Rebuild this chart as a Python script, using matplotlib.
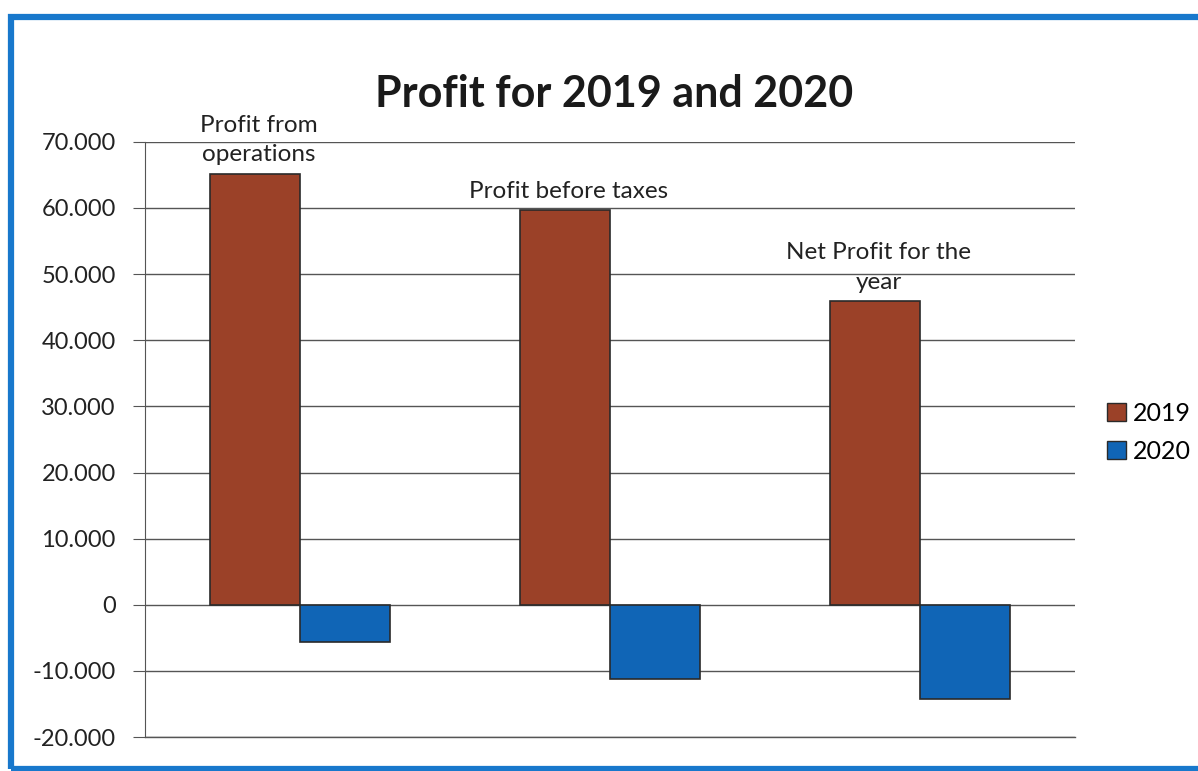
import numpy as np
import matplotlib
matplotlib.use('Agg')
import matplotlib.pyplot as plt
from matplotlib.patches import Rectangle, Patch
from matplotlib.ticker import FuncFormatter

# profit figures per line item
categories = ['Profit from\noperations', 'Profit before taxes', 'Net Profit for the\nyear']
profit_2019 = [65200, 59700, 45900]
profit_2020 = [-5600, -11200, -14200]
years = ['2019', '2020']

col_2019 = '#9b4128'
col_2020 = '#1065b6'

plt.rcParams['font.family'] = ['Lato', 'DejaVu Sans']

fig = plt.figure(figsize=(11.98, 7.71), dpi=100)
ax = fig.add_axes([0.121, 0.044, 0.776, 0.772])

ind = np.arange(len(categories))
width = 0.29
bar1 = ax.bar(ind - width / 2, profit_2019, width, color=col_2019, edgecolor='#2a2a2a', linewidth=1.2, zorder=3)
bar2 = ax.bar(ind + width / 2, profit_2020, width, color=col_2020, edgecolor='#2a2a2a', linewidth=1.2, zorder=3)

# category name sits above the 2019 bar
for i, name in enumerate(categories):
    ax.annotate(name, (ind[i] - width / 2 + 0.012, profit_2019[i]), xytext=(0, 6),
                textcoords='offset points', ha='center', va='bottom',
                fontsize=17.5, color='#222222', linespacing=1.5)

ax.set_xlim(-0.5, 2.5)
ax.set_ylim(-20000, 70000)
ax.set_yticks(np.arange(-20000, 70001, 10000))
ax.yaxis.set_major_formatter(FuncFormatter(lambda v, p: f'{int(v):,}'.replace(',', '.')))
ax.set_xticks([])
ax.grid(axis='y', color='#555555', linewidth=1.0, zorder=0)
ax.axhline(-20000, color='#555555', linewidth=1.0, clip_on=False, zorder=0)
for s in ['top', 'right', 'bottom']:
    ax.spines[s].set_visible(False)
ax.spines['left'].set_color('#555555')
ax.tick_params(axis='y', length=9, color='#555555', labelsize=17, labelcolor='#222222', pad=12)

fig.text(0.513, 0.878, 'Profit for 2019 and 2020', ha='center', va='center',
         fontsize=31, fontweight='bold', color='#1a1a1a')

fig.legend(handles=[Patch(facecolor=col_2019, edgecolor='#2a2a2a'),
                    Patch(facecolor=col_2020, edgecolor='#2a2a2a')],
           labels=years, loc='center left', bbox_to_anchor=(0.924, 0.439),
           frameon=False, fontsize=18, handlelength=0.75, handleheight=0.75,
           handletextpad=0.3, labelspacing=0.6, borderpad=0, borderaxespad=0)

# blue frame round the chart area
fig.patches.append(Rectangle((0.009, 0.003), 1.2, 0.975, transform=fig.transFigure,
                             fill=False, edgecolor='#1878cc', linewidth=4.5))

fig.savefig('out.png', dpi=100)
